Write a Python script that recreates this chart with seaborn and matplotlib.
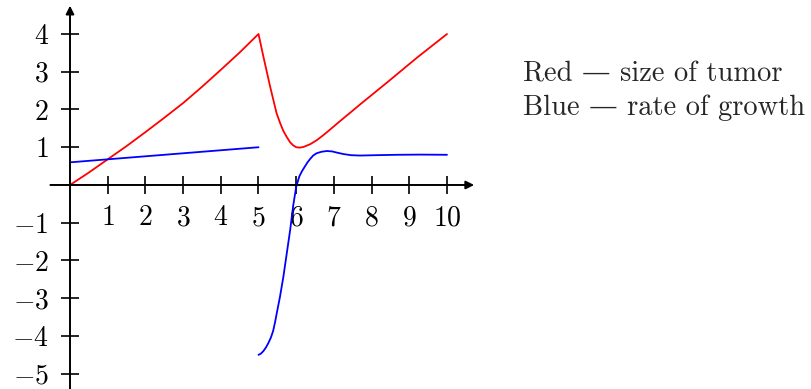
import numpy as np
import pandas as pd
import seaborn as sns
import matplotlib.pyplot as plt

# Settings
sns.set_style("white")
plt.rcParams['mathtext.fontset'] = 'cm'
plt.rcParams['font.family'] = ['cmr10', 'DejaVu Serif']
plt.rcParams['axes.unicode_minus'] = False

# Data
red_x = [0, 0.5, 1, 1.5, 2, 2.5, 3, 3.5, 4, 4.5, 5, 5.13, 5.31, 5.48, 5.57, 5.66, 5.75,
         5.84, 5.92, 6.0, 6.1, 6.2, 6.37, 6.55, 6.72, 6.9, 7.16, 7.45, 7.69, 8.44, 9.2, 10]
red_y = [0, 0.33, 0.68, 1.03, 1.4, 1.78, 2.17, 2.6, 3.05, 3.51, 4.0, 3.40, 2.60, 1.90, 1.65, 1.43, 1.27,
         1.13, 1.05, 1.0, 0.99, 1.01, 1.08, 1.19, 1.32, 1.47, 1.69, 1.93, 2.13, 2.74, 3.37, 4.0]

blue1_x = [0, 5]
blue1_y = [0.6, 1.0]

blue2_x = [5.0, 5.06, 5.13, 5.2, 5.26, 5.33, 5.39, 5.44, 5.48, 5.57, 5.66, 5.75, 5.84, 5.92, 6.0,
           6.08, 6.15, 6.23, 6.3, 6.37, 6.45, 6.54, 6.67, 6.81, 6.95, 7.07, 7.25, 7.45,
           7.69, 8.13, 8.67, 9.3, 10]
blue2_y = [-4.50, -4.47, -4.40, -4.30, -4.19, -4.04, -3.86, -3.63, -3.42, -2.96, -2.43, -1.81, -1.19,
           -0.55, -0.05, 0.22, 0.36, 0.49, 0.60, 0.69, 0.78, 0.84, 0.88, 0.90, 0.89, 0.86, 0.82, 0.79,
           0.78, 0.79, 0.80, 0.805, 0.80]

x_ticks = [1, 2, 3, 4, 5, 6, 7, 8, 9, 10]
y_ticks = [-5, -4, -3, -2, -1, 1, 2, 3, 4]
legend_lines = ["Red \u2014 size of tumor", "Blue \u2014 rate of growth"]

fig = plt.figure(figsize=(8.11, 3.89), dpi=100)
ax = fig.add_axes([0.05842, -0.00926, 0.52994, 1.0092])
ax.set_xlim(-0.6, 10.8)
ax.set_ylim(-5.5, 4.9)

red = pd.DataFrame({'x': red_x, 'y': red_y})
b1 = pd.DataFrame({'x': blue1_x, 'y': blue1_y})
b2 = pd.DataFrame({'x': blue2_x, 'y': blue2_y})
sns.lineplot(data=red, x='x', y='y', sort=False, estimator=None, color='#ff0000', lw=1.3, ax=ax)
sns.lineplot(data=b1, x='x', y='y', sort=False, estimator=None, color='#0000ff', lw=1.3, ax=ax)
sns.lineplot(data=b2, x='x', y='y', sort=False, estimator=None, color='#0000ff', lw=1.3, ax=ax)

# axes through the origin
for s in ['top', 'right']:
    ax.spines[s].set_visible(False)
ax.spines['left'].set_position(('data', 0))
ax.spines['bottom'].set_position(('data', 0))
ax.spines['left'].set_visible(False)
ax.spines['bottom'].set_visible(False)
arrow = dict(arrowstyle='-|>', lw=1.4, color='black', mutation_scale=12, shrinkA=0, shrinkB=0)
ax.annotate('', xy=(10.72, 0), xytext=(-0.52, 0), arrowprops=arrow, annotation_clip=False)
ax.annotate('', xy=(0, 4.75), xytext=(0, -5.6), arrowprops=arrow, annotation_clip=False)

ax.set_xticks(x_ticks)
ax.set_xticklabels([f'${v}$' for v in x_ticks])
ax.set_yticks(y_ticks)
ax.set_yticklabels([f'${v}$' for v in y_ticks])
ax.tick_params(bottom=True, left=True, direction='inout', length=12.5, width=1.2,
               labelsize=20, colors='black')
ax.tick_params(axis='x', pad=8)
ax.tick_params(axis='y', pad=9)
ax.set_xlabel('')
ax.set_ylabel('')
ax.grid(False)

for i, t in enumerate(legend_lines):
    fig.text(523 / 811, 1 - (82 + 33 * i) / 389, t, fontsize=20.5, va='baseline', ha='left')

fig.savefig('out.png', dpi=100)
